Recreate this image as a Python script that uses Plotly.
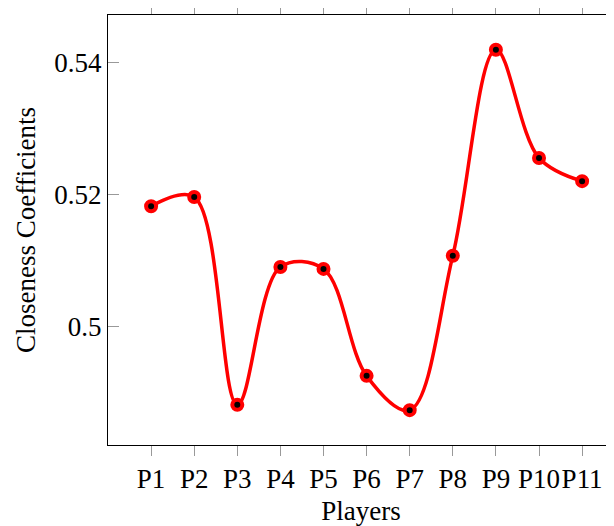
import plotly.graph_objects as go

players = ["P1", "P2", "P3", "P4", "P5", "P6", "P7", "P8", "P9", "P10", "P11"]
closeness = [0.5183, 0.5197, 0.4882, 0.5091, 0.5088, 0.4926, 0.4874, 0.5108, 0.5420, 0.5256, 0.5221]
y_ticks = [0.50, 0.52, 0.54]
y_tick_text = ["0.5", "0.52", "0.54"]

x_idx = list(range(len(players)))

fig = go.Figure()
fig.add_trace(go.Scatter(
    x=x_idx, y=closeness, mode="lines+markers",
    line=dict(color="#ff0000", width=3.5, shape="spline", smoothing=1.0),
    marker=dict(color="black", size=10, line=dict(color="#ff0000", width=4)),
    showlegend=False,
))

font = "Liberation Serif, Times New Roman, serif"
# page body has an 8px margin: compensate so the plot box sits at the reference position
fig.update_layout(
    width=606, height=518,
    margin=dict(l=100, r=0, t=7, b=81, autoexpand=False),
    paper_bgcolor="white", plot_bgcolor="white",
    font=dict(family=font, size=27, color="black"),
)
fig.update_xaxes(
    range=[-1.0, 10.74],
    tickmode="array", tickvals=x_idx, ticktext=players, tickangle=0,
    ticks="outside", ticklen=10, tickcolor="#999999", tickwidth=1,
    showline=True, linecolor="black", linewidth=1, mirror="allticks",
    showgrid=False, zeroline=False,
    title=dict(text="Players", font=dict(family=font, size=27), standoff=12),
    tickfont=dict(family=font, size=27),
    automargin=False,
)
fig.update_yaxes(
    range=[0.48212, 0.54727],
    tickmode="array", tickvals=y_ticks, ticktext=y_tick_text,
    ticks="inside", ticklen=11, tickcolor="#999999", tickwidth=1,
    showline=True, linecolor="black", linewidth=1, mirror=False,
    showgrid=False, zeroline=False,
    title=dict(text="Closeness Coefficients", font=dict(family=font, size=27), standoff=10),
    tickfont=dict(family=font, size=27),
    automargin=False,
)

fig.write_html("out.html")
